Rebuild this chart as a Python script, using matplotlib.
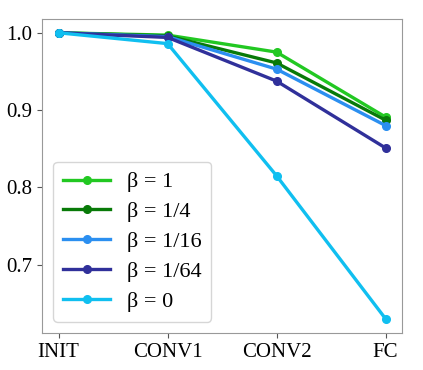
import numpy as np
import matplotlib.pyplot as plt

plt.rcParams['font.family'] = ['Liberation Serif', 'DejaVu Serif']

layers = ['INIT', 'CONV1', 'CONV2', 'FC']
labels = ['β = 1', 'β = 1/4', 'β = 1/16', 'β = 1/64', 'β = 0']
beta_1 = [1.0, 0.997, 0.975, 0.891]
beta_4 = [1.0, 0.996, 0.961, 0.887]
beta_16 = [1.0, 0.995, 0.953, 0.880]
beta_64 = [1.0, 0.994, 0.9375, 0.851]
beta_0 = [1.0, 0.986, 0.815, 0.630]
colors = ['#22c822', '#087a08', '#2b8ff0', '#30309a', '#10bff0']

fig, ax = plt.subplots(figsize=(4.23, 3.7), dpi=100)
x = np.arange(len(layers))
for ys, lab, c in zip([beta_1, beta_4, beta_16, beta_64, beta_0], labels, colors):
    ax.plot(x, ys, '-o', color=c, lw=2.4, ms=5.5, label=lab)

ax.set_xticks(x)
ax.set_xticklabels(layers)
ax.set_yticks([0.7, 0.8, 0.9, 1.0])
ax.tick_params(labelsize=15, color='#555555')
for s in ax.spines.values():
    s.set_color('#999999')
ax.legend(loc='lower left', fontsize=16, handlelength=2.1, handletextpad=0.75,
          borderpad=0.45, labelspacing=0.42)
plt.subplots_adjust(left=0.1, right=0.95, top=0.95, bottom=0.1)
plt.savefig('out.png', dpi=100)
